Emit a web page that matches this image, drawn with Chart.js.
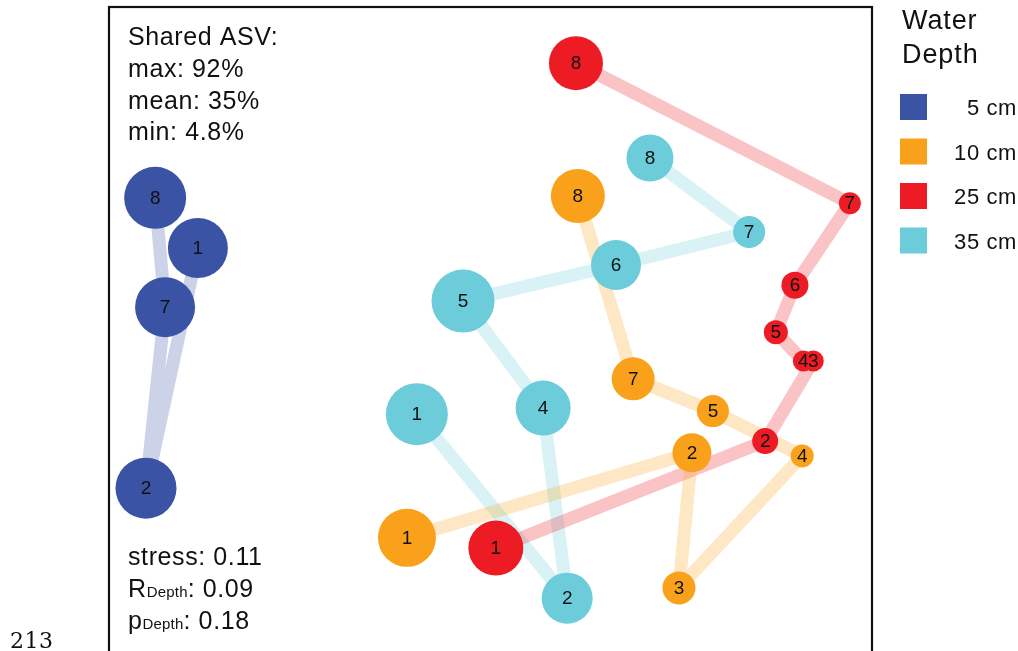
<!DOCTYPE html>
<html>
<head>
<meta charset="utf-8">
<title>NMDS – Water Depth</title>
<script src="https://cdn.jsdelivr.net/npm/chart.js@4.4.1/dist/chart.umd.min.js"></script>
<style>
  html, body { margin: 0; padding: 0; background: #fff; overflow: hidden; }
  #wrap { position: relative; width: 1018px; height: 651px; overflow: hidden; }
  canvas { display: block; }
</style>
</head>
<body>
<div id="wrap"><canvas id="nmds" width="1018" height="700"></canvas></div>
<script>
// ---- NMDS ordination scores, one group per water depth ----
const depthLabels = ['5 cm', '10 cm', '25 cm', '35 cm'];

// 5 cm
const siteBlue = [1, 2, 7, 8];
const xBlue    = [-0.767, -0.903, -0.853, -0.879];
const yBlue    = [ 0.265, -0.368,  0.109,  0.397];
const rBlue    = [30, 30.5, 30, 31];

// 10 cm
const siteOrange = [1, 2, 3, 4, 5, 7, 8];
const xOrange    = [-0.219, 0.528, 0.494, 0.817, 0.583, 0.374, 0.229];
const yOrange    = [-0.499, -0.275, -0.631, -0.283, -0.165, -0.080, 0.402];
const rOrange    = [29, 19.5, 16.5, 11.5, 16, 21.5, 27];

// 25 cm
const siteRed = [1, 2, 3, 4, 5, 6, 7, 8];
const xRed    = [0.014, 0.720, 0.846, 0.820, 0.748, 0.798, 0.942, 0.224];
const yRed    = [-0.526, -0.244, -0.033, -0.033, 0.043, 0.167, 0.383, 0.752];
const rRed    = [27.5, 13, 10.5, 10.5, 12, 13.5, 11, 27];

// 35 cm
const siteCyan = [1, 2, 4, 5, 6, 7, 8];
const xCyan    = [-0.193, 0.201, 0.138, -0.072, 0.329, 0.678, 0.418];
const yCyan    = [-0.173, -0.658, -0.157, 0.125, 0.220, 0.307, 0.502];
const rCyan    = [31, 25.5, 27.5, 31.5, 25, 16, 23.5];

// summary statistics printed in the panel
const sharedAsv = { max: '92%', mean: '35%', min: '4.8%' };
const stressValue = '0.11';
const rDepth = '0.09';
const pDepth = '0.18';

// ---- styling ----
const palette = ['#3A53A4', '#F9A11B', '#ED1C24', '#6CCCDA'];
const pathAlpha = 0.26;
const FONT = '"Liberation Sans", Arial, Helvetica, sans-serif';

function rgba(hex, a) {
  const n = parseInt(hex.slice(1), 16);
  return `rgba(${(n >> 16) & 255},${(n >> 8) & 255},${n & 255},${a})`;
}

const groups = [
  { site: siteBlue,   x: xBlue,   y: yBlue,   r: rBlue },
  { site: siteOrange, x: xOrange, y: yOrange, r: rOrange },
  { site: siteRed,    x: xRed,    y: yRed,    r: rRed },
  { site: siteCyan,   x: xCyan,   y: yCyan,   r: rCyan }
];

const datasets = [];
// points on top (lower order draws later / on top)
groups.forEach((g, i) => {
  datasets.push({
    type: 'bubble',
    label: depthLabels[i],
    siteLabels: g.site,
    data: g.site.map((s, k) => ({ x: g.x[k], y: g.y[k], r: g.r[k] })),
    backgroundColor: palette[i],
    borderWidth: 0,
    hoverRadius: 0,
    hoverBorderWidth: 0,
    order: 1
  });
});
// connecting paths in site order, underneath the points
groups.forEach((g, i) => {
  datasets.push({
    type: 'line',
    label: depthLabels[i] + ' path',
    data: g.site.map((s, k) => ({ x: g.x[k], y: g.y[k] })),
    borderColor: rgba(palette[i], pathAlpha),
    borderWidth: 13,
    borderCapStyle: 'butt',
    borderJoinStyle: 'round',
    pointRadius: 0,
    pointHoverRadius: 0,
    fill: false,
    tension: 0,
    order: 2
  });
});

function spaced(ctx, px) {
  if ('letterSpacing' in ctx) ctx.letterSpacing = px + 'px';
}

const decorations = {
  id: 'decorations',
  afterDatasetsDraw(chart) {
    const ctx = chart.ctx;
    const area = chart.chartArea;
    ctx.save();

    // site numbers inside the circles
    ctx.fillStyle = '#111';
    ctx.font = `19px ${FONT}`;
    ctx.textAlign = 'center';
    ctx.textBaseline = 'middle';
    chart.data.datasets.forEach((ds, di) => {
      if (ds.type !== 'bubble') return;
      const meta = chart.getDatasetMeta(di);
      meta.data.forEach((el, k) => {
        ctx.fillText(String(ds.siteLabels[k]), el.x, el.y + 1);
      });
    });

    // panel frame
    ctx.strokeStyle = '#111';
    ctx.lineWidth = 2.2;
    ctx.strokeRect(area.left, area.top, area.right - area.left, area.bottom - area.top);

    // shared ASV block
    ctx.textAlign = 'left';
    ctx.textBaseline = 'alphabetic';
    ctx.font = `25px ${FONT}`;
    spaced(ctx, 0.6);
    const tx = 128;
    ctx.fillText('Shared ASV:', tx, 45);
    ctx.fillText('max: ' + sharedAsv.max, tx, 77);
    ctx.fillText('mean: ' + sharedAsv.mean, tx, 109);
    ctx.fillText('min: ' + sharedAsv.min, tx, 140);

    // stress / ANOSIM block
    ctx.fillText('stress: ' + stressValue, tx, 565);
    const sub = (main, subTxt, rest, y) => {
      ctx.font = `25px ${FONT}`;
      spaced(ctx, 0.6);
      ctx.fillText(main, tx, y);
      let x = tx + ctx.measureText(main).width;
      ctx.font = `15px ${FONT}`;
      spaced(ctx, 0.2);
      ctx.fillText(subTxt, x, y);
      x += ctx.measureText(subTxt).width;
      ctx.font = `25px ${FONT}`;
      spaced(ctx, 0.6);
      ctx.fillText(rest, x, y);
    };
    sub('R', 'Depth', ': ' + rDepth, 597);
    sub('p', 'Depth', ': ' + pDepth, 629);

    // legend
    ctx.font = `27px ${FONT}`;
    spaced(ctx, 0.9);
    ctx.fillText('Water', 902, 29);
    ctx.fillText('Depth', 902, 63);
    ctx.font = `22px ${FONT}`;
    spaced(ctx, 0.6);
    ctx.textAlign = 'right';
    depthLabels.forEach((lab, i) => {
      const top = 94 + i * 44.5;
      ctx.fillStyle = palette[i];
      ctx.fillRect(900, top, 27, 26);
      ctx.fillStyle = '#111';
      ctx.fillText(lab, 1017, top + 21);
    });

    // page number below the figure
    spaced(ctx, 0.5);
    ctx.textAlign = 'left';
    ctx.font = '22px "DejaVu Serif", serif';
    ctx.fillText('213', 10, 648);

    ctx.restore();
  }
};

new Chart(document.getElementById('nmds'), {
  type: 'bubble',
  data: { datasets },
  options: {
    responsive: false,
    animation: false,
    devicePixelRatio: 1,
    layout: { autoPadding: false, padding: { left: 109, right: 146, top: 7, bottom: 10 } },
    scales: {
      x: { type: 'linear', min: -1, max: 1, display: false },
      y: { type: 'linear', min: -0.9, max: 0.9, display: false }
    },
    plugins: {
      legend: { display: false },
      tooltip: { enabled: false }
    },
    events: []
  },
  plugins: [decorations]
});
</script>
</body>
</html>
